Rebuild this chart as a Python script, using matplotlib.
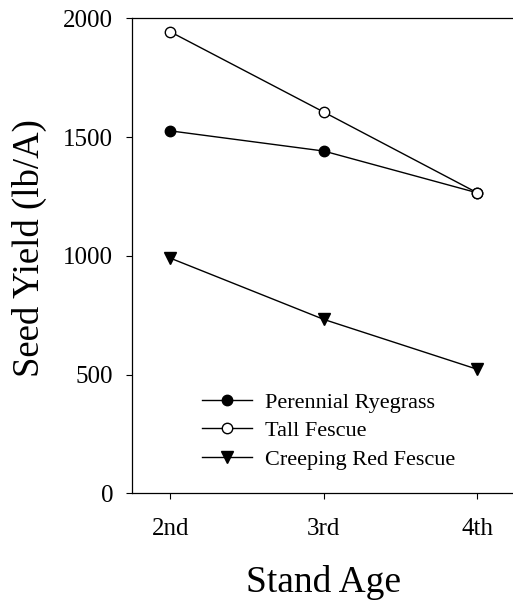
import matplotlib
matplotlib.use("Agg")
import matplotlib.pyplot as plt

stand_age = ["2nd", "3rd", "4th"]
perennial_ryegrass = [1526, 1441, 1265]
tall_fescue = [1943, 1605, 1265]
creeping_red_fescue = [990, 732, 522]
y_ticks = [0, 500, 1000, 1500, 2000]

plt.rcParams["font.family"] = ["Liberation Serif", "DejaVu Serif"]

fig = plt.figure(figsize=(5.13, 6.02), dpi=100)
ax = fig.add_axes([0.2573, 0.1806, 0.748, 0.789])

x = list(range(1, len(stand_age) + 1))
ax.plot(x, perennial_ryegrass, color="black", lw=1.0, marker="o", ms=7.5,
        mfc="black", mec="black", label="Perennial Ryegrass")
ax.plot(x, tall_fescue, color="black", lw=1.0, marker="o", ms=7.5,
        mfc="white", mec="black", mew=1.0, label="Tall Fescue")
ax.plot(x, creeping_red_fescue, color="black", lw=1.0, marker="v", ms=9,
        mfc="black", mec="black", label="Creeping Red Fescue")

ax.set_xlim(0.75, 3.25)
ax.set_ylim(0, 2000)
ax.set_xticks(x)
ax.set_xticklabels(stand_age)
ax.set_yticks(y_ticks)
ax.tick_params(direction="out", length=4.5, width=0.8, labelsize=18, pad=9)
ax.tick_params(axis="x", pad=13)
for s in ax.spines.values():
    s.set_linewidth(0.9)

ax.set_xlabel("Stand Age", fontsize=27, labelpad=18)
ax.set_ylabel("Seed Yield (lb/A)", fontsize=26.5)
ax.yaxis.set_label_coords(-0.222, 0.517)

ax.legend(loc="upper left", bbox_to_anchor=(0.16, 0.232), frameon=False,
          fontsize=16, handlelength=2.25, handletextpad=0.55,
          labelspacing=0.36, borderaxespad=0)

fig.savefig("out.png", dpi=100)
